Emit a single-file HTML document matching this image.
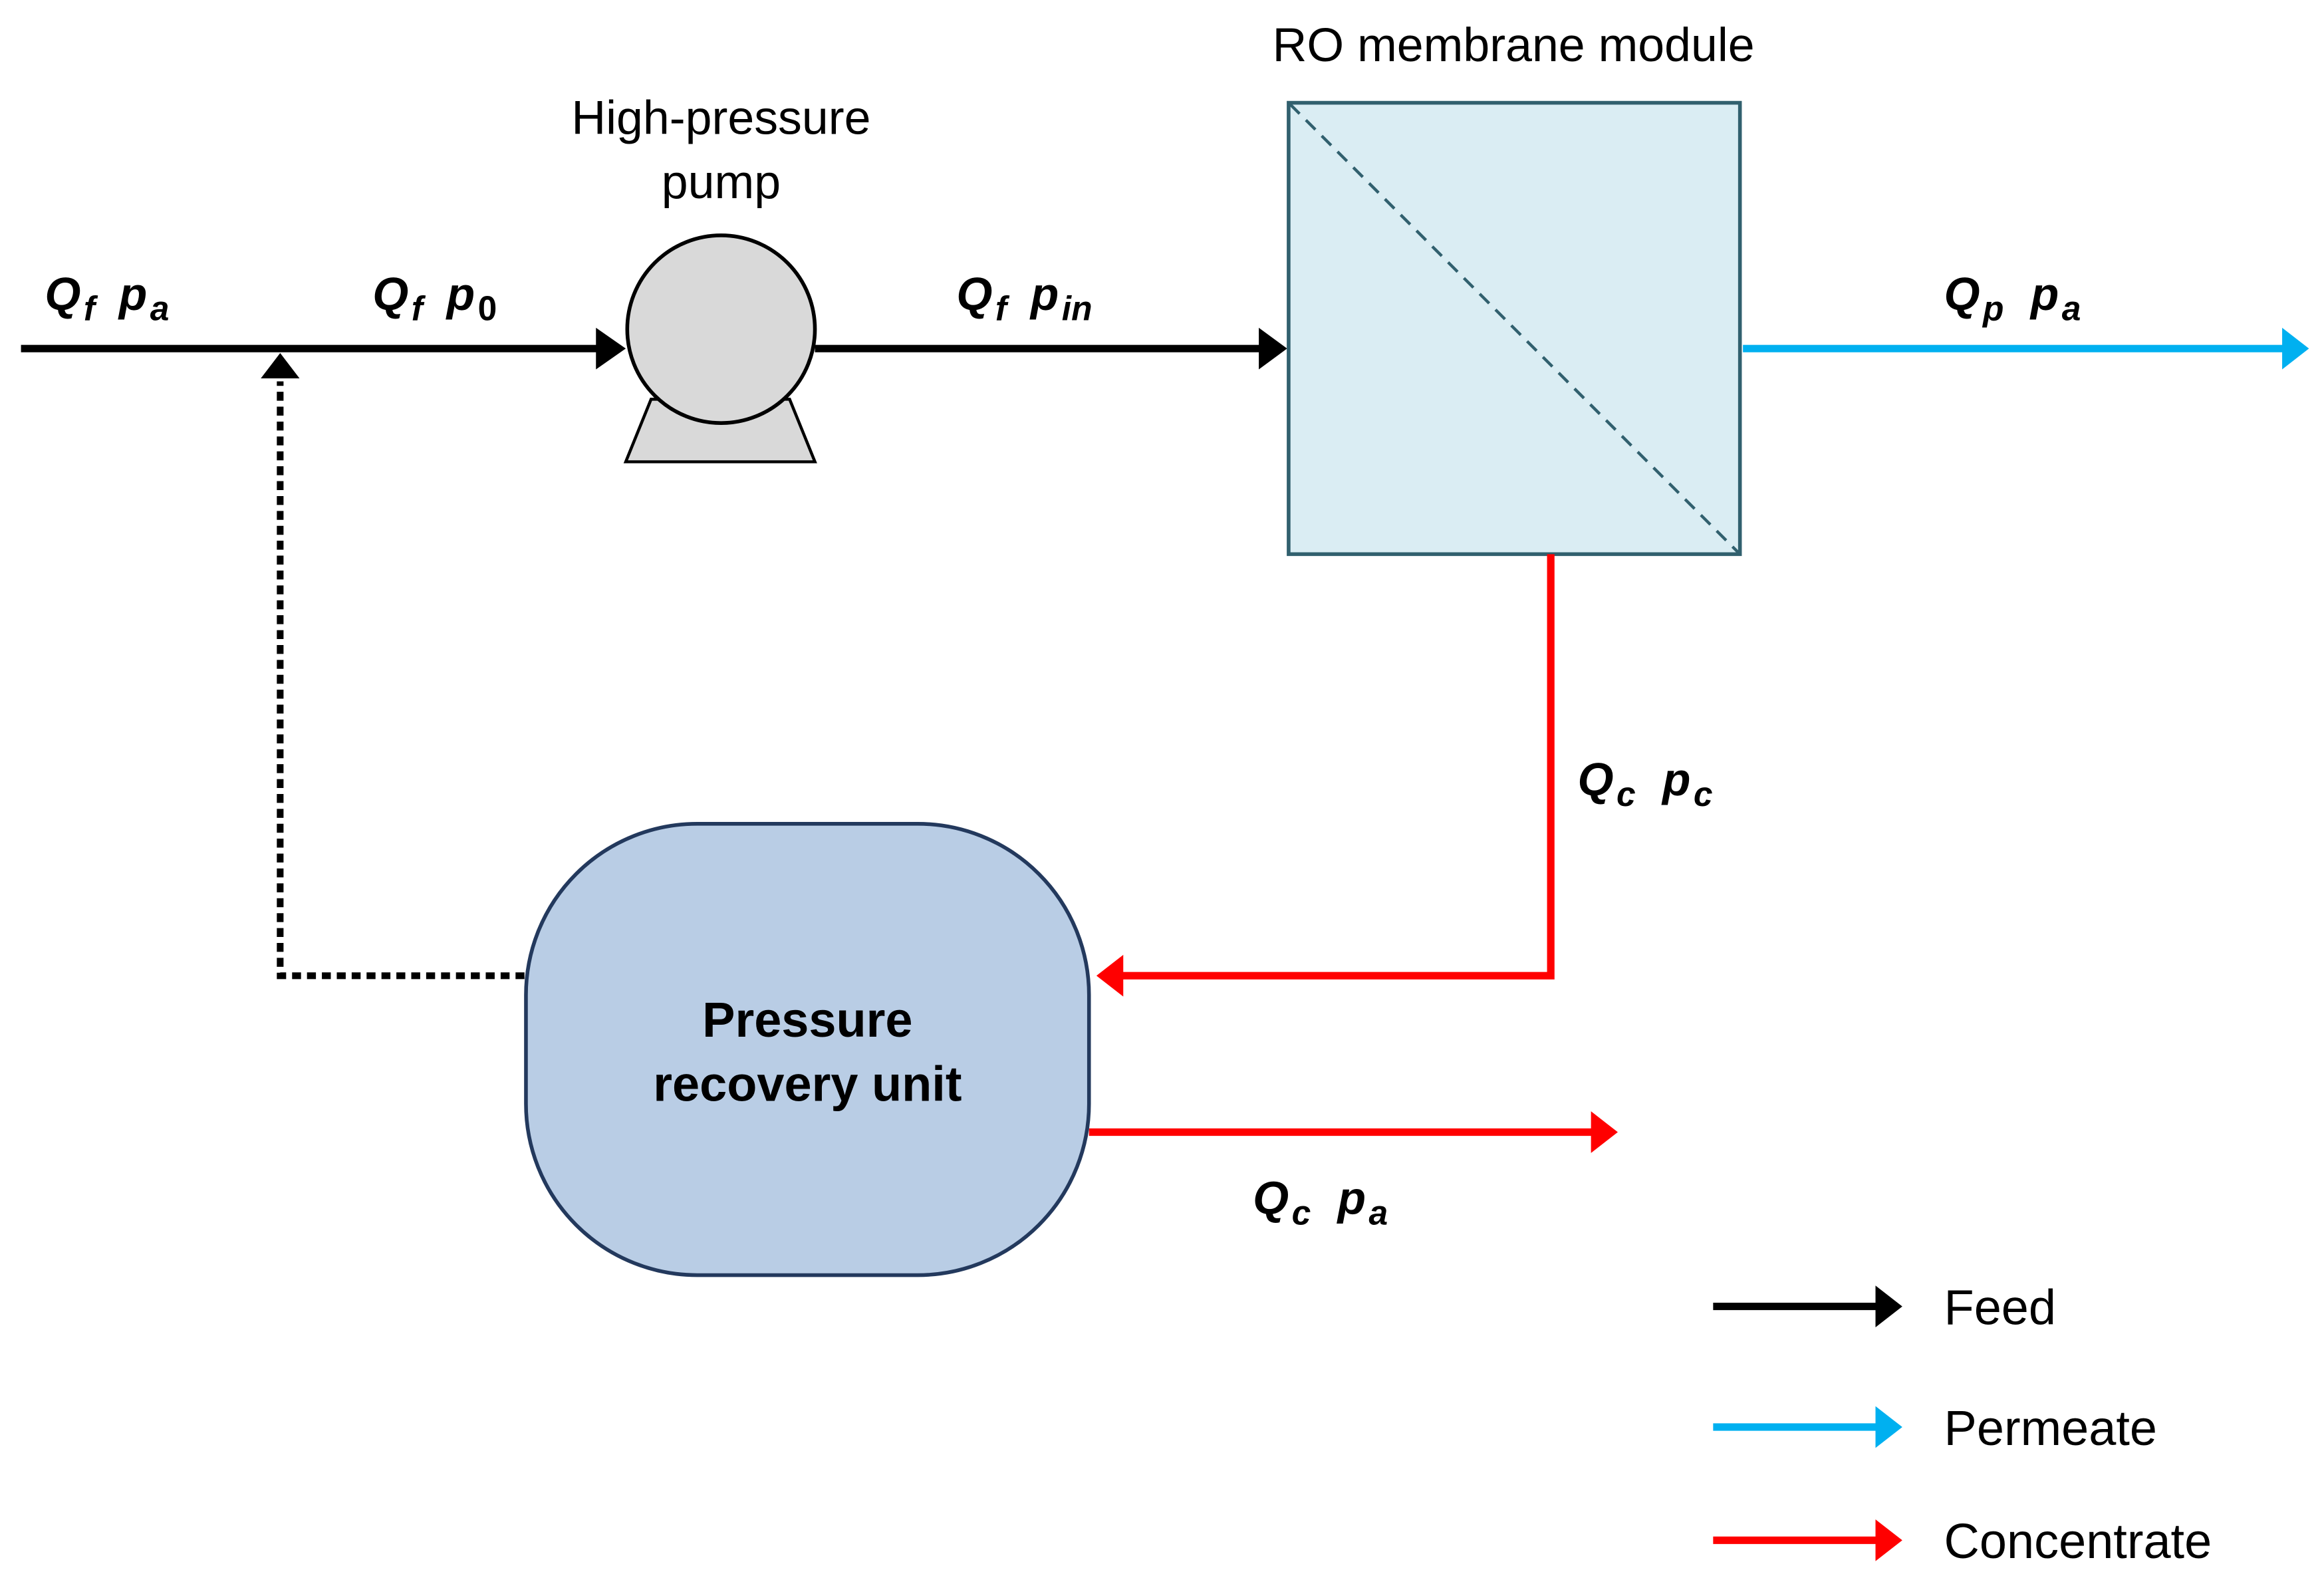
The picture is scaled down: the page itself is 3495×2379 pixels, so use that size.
<!DOCTYPE html>
<html><head><meta charset="utf-8"><style>
html,body{margin:0;padding:0;background:#fff;}
svg{display:block;}
text{font-family:"Liberation Sans",Arial,sans-serif;}
.l{font-weight:bold;font-style:italic;font-size:31px;}
.s{font-size:23px;}
</style></head><body>
<svg width="3495" height="2379" viewBox="0 0 1560 1062" xmlns="http://www.w3.org/2000/svg">
<rect width="1560" height="1062" fill="#fff"/>
<line x1="14" y1="234" x2="402" y2="234" stroke="#000" stroke-width="5"/>
<polygon points="400,220 420,234 400,248" fill="#000"/>
<polygon points="437,268 530,268 547,310 420,310" fill="#d9d9d9" stroke="#000" stroke-width="2"/>
<circle cx="484" cy="221" r="63" fill="#d9d9d9" stroke="#000" stroke-width="2.5"/>
<line x1="547" y1="234" x2="846" y2="234" stroke="#000" stroke-width="5"/>
<polygon points="845,220 864,234 845,248" fill="#000"/>
<rect x="865" y="69" width="303" height="303" fill="#daedf3" stroke="#31606e" stroke-width="2.5"/>
<line x1="866" y1="70" x2="1167" y2="371" stroke="#31606e" stroke-width="2" stroke-dasharray="9,6"/>
<line x1="1170" y1="234" x2="1534" y2="234" stroke="#00b0f0" stroke-width="5"/>
<polygon points="1532,220 1550,234 1532,248" fill="#00b0f0"/>
<polyline points="1041,372 1041,655 752,655" fill="none" stroke="#ff0000" stroke-width="5"/>
<polygon points="754,641 736,655 754,669" fill="#ff0000"/>
<line x1="731" y1="760" x2="1070" y2="760" stroke="#ff0000" stroke-width="5"/>
<polygon points="1068,746 1086,760 1068,774" fill="#ff0000"/>
<polyline points="352,655 188,655 188,256" fill="none" stroke="#000" stroke-width="4.5" stroke-dasharray="6,4"/>
<polygon points="175,254 188,237 201,254" fill="#000"/>
<rect x="353" y="553" width="378" height="303" rx="115" ry="115" fill="#b9cde5" stroke="#23395d" stroke-width="2.5"/>
<text x="542" y="696" text-anchor="middle" font-weight="bold" font-size="33">Pressure</text>
<text x="542" y="739" text-anchor="middle" font-weight="bold" font-size="33">recovery unit</text>
<text x="1016" y="41" text-anchor="middle" font-size="32">RO membrane module</text>
<text x="484" y="90" text-anchor="middle" font-size="32">High-pressure</text>
<text x="484" y="133" text-anchor="middle" font-size="32">pump</text>
<text x="30" y="208" class="l">Q<tspan class="s" dy="7" dx="2">f</tspan><tspan dy="-7" dx="16">p</tspan><tspan class="s" dy="7" dx="2">a</tspan></text>
<text x="250" y="208" class="l">Q<tspan class="s" dy="7" dx="2">f</tspan><tspan dy="-7" dx="16">p</tspan><tspan class="s" dy="7" dx="2" font-style="normal">0</tspan></text>
<text x="642" y="208" class="l">Q<tspan class="s" dy="7" dx="2">f</tspan><tspan dy="-7" dx="16">p</tspan><tspan class="s" dy="7" dx="2">in</tspan></text>
<text x="1305" y="208" class="l">Q<tspan class="s" dy="7" dx="2">p</tspan><tspan dy="-7" dx="18">p</tspan><tspan class="s" dy="7" dx="2">a</tspan></text>
<text x="1059" y="534" class="l">Q<tspan class="s" dy="7" dx="2">c</tspan><tspan dy="-7" dx="18">p</tspan><tspan class="s" dy="7" dx="2">c</tspan></text>
<text x="841" y="815" class="l">Q<tspan class="s" dy="7" dx="2">c</tspan><tspan dy="-7" dx="18">p</tspan><tspan class="s" dy="7" dx="2">a</tspan></text>
<line x1="1150" y1="877" x2="1262" y2="877" stroke="#000" stroke-width="5"/>
<polygon points="1259,863 1277,877 1259,891" fill="#000"/>
<text x="1305" y="889" font-size="33">Feed</text>
<line x1="1150" y1="958" x2="1262" y2="958" stroke="#00b0f0" stroke-width="5"/>
<polygon points="1259,944 1277,958 1259,972" fill="#00b0f0"/>
<text x="1305" y="970" font-size="33">Permeate</text>
<line x1="1150" y1="1034" x2="1262" y2="1034" stroke="#ff0000" stroke-width="5"/>
<polygon points="1259,1020 1277,1034 1259,1048" fill="#ff0000"/>
<text x="1305" y="1046" font-size="33">Concentrate</text>
</svg>
</body></html>
